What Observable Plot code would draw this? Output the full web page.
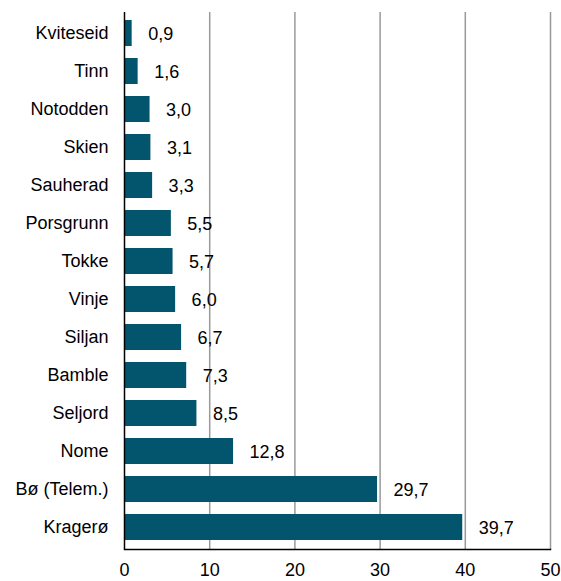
<!DOCTYPE html>
<html>
<head>
<meta charset="utf-8">
<script src="https://cdn.jsdelivr.net/npm/d3@7"></script>
<script src="https://cdn.jsdelivr.net/npm/@observablehq/plot@0.6"></script>
<style>
  html, body { margin: 0; padding: 0; background: #fff; }
  #chart { width: 561px; height: 581px; }
</style>
</head>
<body>
<div id="chart"></div>
<script>
const categories = ["Kviteseid", "Tinn", "Notodden", "Skien", "Sauherad", "Porsgrunn", "Tokke", "Vinje", "Siljan", "Bamble", "Seljord", "Nome", "Bø (Telem.)", "Kragerø"];
const values = [0.9, 1.6, 3.0, 3.1, 3.3, 5.5, 5.7, 6.0, 6.7, 7.3, 8.5, 12.8, 29.7, 39.7];
const xTicks = [0, 10, 20, 30, 40, 50];
const gridTicks = [10, 20, 30, 40, 50];

const data = categories.map((c, i) => ({name: c, value: values[i]}));
const fmt = v => v.toFixed(1).replace(".", ",");

const chart = Plot.plot({
  width: 561,
  height: 581,
  marginLeft: 124,
  marginRight: 11,
  marginTop: 12,
  marginBottom: 32,
  style: {fontFamily: "'Liberation Sans', Arial, sans-serif", fontSize: "18px", color: "#000", background: "#fff"},
  x: {domain: [0, 50], ticks: xTicks, tickSize: 0, tickPadding: 14, label: null, tickFormat: d => String(d)},
  y: {domain: categories, paddingInner: 0.31, paddingOuter: 0.15, tickSize: 0, tickPadding: 16, label: null},
  marks: [
    Plot.ruleX(gridTicks, {stroke: "#999", strokeWidth: 1.5}),
    Plot.barX(data, {x: "value", y: "name", fill: "#03546d"}),
    Plot.ruleX([0], {stroke: "#000", strokeWidth: 1.5}),
    Plot.frame({anchor: "bottom", stroke: "#000", strokeWidth: 1.5}),
    Plot.text(data, {x: "value", y: "name", text: d => fmt(d.value), dx: 16, dy: 1, textAnchor: "start", fill: "#000", fontSize: 18})
  ]
});
document.getElementById("chart").appendChild(chart);
</script>
</body>
</html>
